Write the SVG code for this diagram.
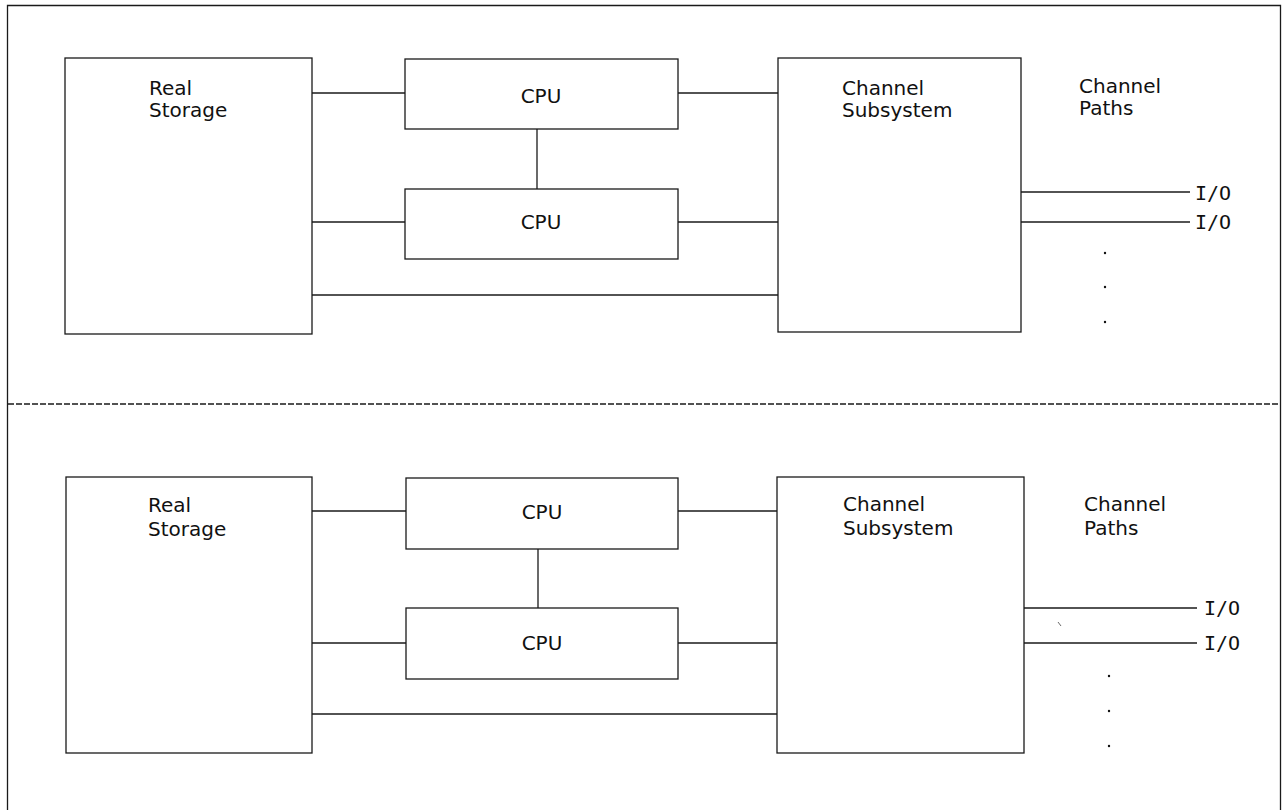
<svg xmlns="http://www.w3.org/2000/svg" width="1288" height="810" viewBox="0 0 1288 810">
<style>
.box{fill:#fff;stroke:#1a1a1a;stroke-width:1.3}
.ln{stroke:#1a1a1a;stroke-width:1.3;fill:none}
.t{font-family:"DejaVu Sans",sans-serif;font-size:20px;fill:#111}
.io{font-family:"DejaVu Sans Mono",monospace;font-size:20px;fill:#111}
.dot{fill:#111}
</style>
<rect width="1288" height="810" fill="#fff"/>
<g id="frame">
<path class="ln" d="M7.5,815 V5.5 H1280.5 V815"/>
<line x1="8" y1="404" x2="1280" y2="404" stroke="#1a1a1a" stroke-width="1.3" stroke-dasharray="6 2"/>
</g>
<g id="connectors">
<line class="ln" x1="312" y1="93" x2="405" y2="93"/>
<line class="ln" x1="678" y1="93" x2="778" y2="93"/>
<line class="ln" x1="537" y1="129" x2="537" y2="189"/>
<line class="ln" x1="312" y1="222" x2="405" y2="222"/>
<line class="ln" x1="678" y1="222" x2="778" y2="222"/>
<line class="ln" x1="312" y1="295" x2="778" y2="295"/>
<line class="ln" x1="1021" y1="192" x2="1190" y2="192"/>
<line class="ln" x1="1021" y1="222" x2="1190" y2="222"/>
<line class="ln" x1="312" y1="511" x2="406" y2="511"/>
<line class="ln" x1="678" y1="511" x2="777" y2="511"/>
<line class="ln" x1="538" y1="549" x2="538" y2="608"/>
<line class="ln" x1="312" y1="643" x2="406" y2="643"/>
<line class="ln" x1="678" y1="643" x2="777" y2="643"/>
<line class="ln" x1="312" y1="714" x2="777" y2="714"/>
<line class="ln" x1="1024" y1="608" x2="1197" y2="608"/>
<line class="ln" x1="1024" y1="643" x2="1197" y2="643"/>
<line x1="1058" y1="622" x2="1061" y2="626" stroke="#444" stroke-width="0.8"/>
</g>
<g id="top-real-storage">
<rect class="box" x="65" y="58" width="247" height="276"/>
<text class="t" x="149" y="95">Real</text>
<text class="t" x="149" y="117">Storage</text>
</g>
<g id="top-cpu1">
<rect class="box" x="405" y="59" width="273" height="70"/>
<text class="t" x="541" y="103" text-anchor="middle">CPU</text>
</g>
<g id="top-cpu2">
<rect class="box" x="405" y="189" width="273" height="70"/>
<text class="t" x="541" y="229" text-anchor="middle">CPU</text>
</g>
<g id="top-channel-subsystem">
<rect class="box" x="778" y="58" width="243" height="274"/>
<text class="t" x="842" y="95">Channel</text>
<text class="t" x="842" y="117">Subsystem</text>
</g>
<g id="top-channel-paths">
<text class="t" x="1079" y="93">Channel</text>
<text class="t" x="1079" y="115">Paths</text>
<text class="io" x="1195" y="200">I/O</text>
<text class="io" x="1195" y="229">I/O</text>
<circle class="dot" cx="1105" cy="253" r="1.2"/>
<circle class="dot" cx="1105" cy="287" r="1.2"/>
<circle class="dot" cx="1105" cy="322" r="1.2"/>
</g>
<g id="bottom-real-storage">
<rect class="box" x="66" y="477" width="246" height="276"/>
<text class="t" x="148" y="512">Real</text>
<text class="t" x="148" y="536">Storage</text>
</g>
<g id="bottom-cpu1">
<rect class="box" x="406" y="478" width="272" height="71"/>
<text class="t" x="542" y="519" text-anchor="middle">CPU</text>
</g>
<g id="bottom-cpu2">
<rect class="box" x="406" y="608" width="272" height="71"/>
<text class="t" x="542" y="650" text-anchor="middle">CPU</text>
</g>
<g id="bottom-channel-subsystem">
<rect class="box" x="777" y="477" width="247" height="276"/>
<text class="t" x="843" y="511">Channel</text>
<text class="t" x="843" y="535">Subsystem</text>
</g>
<g id="bottom-channel-paths">
<text class="t" x="1084" y="511">Channel</text>
<text class="t" x="1084" y="535">Paths</text>
<text class="io" x="1204" y="615">I/O</text>
<text class="io" x="1204" y="650">I/O</text>
<circle class="dot" cx="1109" cy="676" r="1.2"/>
<circle class="dot" cx="1109" cy="711" r="1.2"/>
<circle class="dot" cx="1109" cy="746" r="1.2"/>
</g>
</svg>
